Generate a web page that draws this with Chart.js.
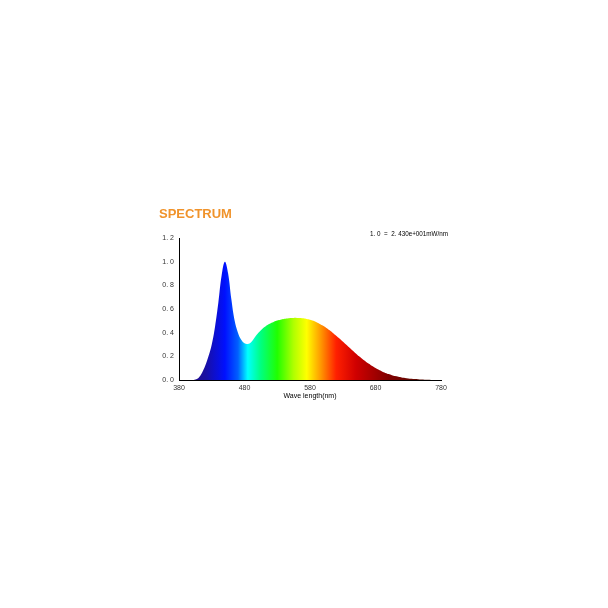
<!DOCTYPE html>
<html><head><meta charset="utf-8">
<script src="https://cdn.jsdelivr.net/npm/chart.js@4"></script>
<style>html,body{margin:0;padding:0;background:#fff}canvas{display:block}</style>
</head><body>
<canvas id="c" width="608" height="608"></canvas>
<script>
const wavelengths = [];
for (let w = 380; w <= 780; w += 5) wavelengths.push(w);
const intensity = [0,0,0,0,0,0.005,0.02,0.06,0.12,0.2,0.3,0.45,0.65,0.88,1.0,0.9,0.68,0.5,0.4,0.34,0.31,0.305,0.32,0.355,0.39,0.42,0.445,0.465,0.48,0.493,0.503,0.51,0.516,0.52,0.523,0.525,0.525,0.524,0.521,0.516,0.51,0.5,0.488,0.474,0.458,0.44,0.42,0.398,0.374,0.35,0.325,0.3,0.275,0.25,0.225,0.2,0.178,0.157,0.137,0.118,0.101,0.086,0.072,0.06,0.05,0.041,0.033,0.027,0.021,0.017,0.013,0.01,0.008,0.006,0.004,0.003,0.002,0.001,0,0,0];
const xTicks = [380,480,580,680,780];
const yTicks = [0,0.2,0.4,0.6,0.8,1.0,1.2];
const colorStops = [[380,'#2a0a7a'],[420,'#1a0fa0'],[450,'#0010ff'],[470,'#0060ff'],[485,'#00ffff'],[505,'#00ff80'],[530,'#20ff00'],[555,'#b0ff00'],[575,'#ffff00'],[595,'#ffa000'],[620,'#ff2000'],[650,'#d00000'],[700,'#800000'],[780,'#401000']];

const extras = {
  id:'extras',
  afterDraw(ch){
    const c=ch.ctx; c.save();
    c.fillStyle='#f0932b'; c.font='bold 13px "Liberation Sans", Arial'; c.textBaseline='middle';
    c.fillText('SPECTRUM',159,214);
    c.fillStyle='#000'; c.font='7px "Liberation Sans", Arial';
    c.fillText('1. 0  =  2. 430e+001mW/nm',370,234,78);
    c.restore();
  }
};
new Chart(document.getElementById('c'),{
  type:'line',
  data:{datasets:[{
    data:wavelengths.map((w,i)=>({x:w,y:intensity[i]})),
    fill:'origin', borderWidth:0, pointRadius:0, tension:0.4,
    backgroundColor(ctx){
      const a=ctx.chart.chartArea; if(!a) return '#00f';
      const xs=ctx.chart.scales.x;
      const g=ctx.chart.ctx.createLinearGradient(xs.getPixelForValue(380),0,xs.getPixelForValue(780),0);
      colorStops.forEach(([w,col])=>g.addColorStop((w-380)/400,col));
      return g;
    }
  }]},
  plugins:[extras],
  options:{
    responsive:false, animation:false,
    layout:{padding:{left:150,top:238,right:167,bottom:208}},
    plugins:{legend:{display:false},tooltip:{enabled:false}},
    scales:{
      x:{type:'linear',min:380,max:780,
        afterFit(s){s.height=20;},
        afterBuildTicks(s){s.ticks=xTicks.map(v=>({value:v}));},
        grid:{display:false,drawTicks:false},border:{color:'#000',width:1},
        ticks:{color:'#333',font:{size:7},padding:4,maxRotation:0},
        title:{display:true,text:'Wave length(nm)',color:'#000',font:{size:7},padding:0}},
      y:{min:0,max:1.2,
        afterFit(s){s.width=29;},
        afterBuildTicks(s){s.ticks=yTicks.map(v=>({value:v}));},
        grid:{display:false,drawTicks:false},border:{color:'#000',width:1},
        ticks:{color:'#333',font:{size:7},padding:5,callback:v=>v.toFixed(1).replace('.', '. ')}}
    }
  }
});
</script>
</body></html>
